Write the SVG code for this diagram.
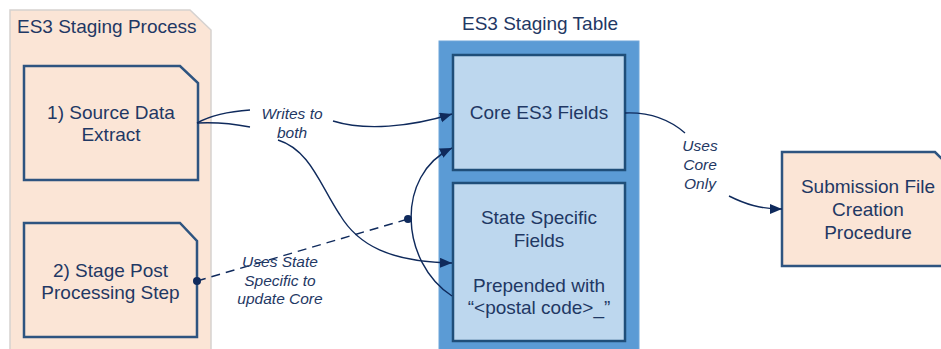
<svg xmlns="http://www.w3.org/2000/svg" width="941" height="349" viewBox="0 0 941 349">
  <style>
    .t { font-family: "Liberation Sans", Arial, sans-serif; font-size: 19px; fill: #1f3864; text-anchor: middle; }
    .tl { font-family: "Liberation Sans", Arial, sans-serif; font-size: 19px; fill: #1f3864; }
    .lab { font-family: "Liberation Sans", Arial, sans-serif; font-size: 15.5px; font-style: italic; fill: #1f3864; text-anchor: middle; }
    .peach { fill: #fbe5d6; stroke: #2e5480; stroke-width: 2.5; }
    .blue { fill: #bdd7ee; stroke: #1f4e79; stroke-width: 2.5; }
    .conn { fill: none; stroke: #0f2a5c; stroke-width: 1.4; }
    .dash { stroke-dasharray: 9 6; }
    .dot { fill: #0f2a5c; }
  </style>
  <defs>
    <marker id="arr" markerUnits="userSpaceOnUse" markerWidth="14" markerHeight="12" refX="12" refY="5" orient="auto">
      <path d="M0,0 L12,5 L0,10 Z" fill="#0f2a5c"/>
    </marker>
  </defs>
  <rect x="0" y="0" width="941" height="349" fill="#ffffff"/>

  <g id="staging-process">
    <path d="M10,10 H190 L211,30 V355 H10 Z" fill="#fbe5d6" stroke="#d6d2d0" stroke-width="1.5"/>
    <text class="tl" x="17" y="33">ES3 Staging Process</text>
  </g>

  <g id="source-extract">
    <path class="peach" d="M24,66 H180 L198,83 V180 H24 Z"/>
    <text class="t" x="111" y="118.5">1) Source Data</text>
    <text class="t" x="111" y="141">Extract</text>
  </g>

  <g id="stage-post">
    <path class="peach" d="M24,223 H180 L197,241 V337 H24 Z"/>
    <text class="t" x="110.5" y="277">2) Stage Post</text>
    <text class="t" x="110.5" y="298.5">Processing Step</text>
  </g>

  <g id="staging-table">
    <rect x="439" y="41" width="200" height="320" fill="#5b9bd5" stroke="#6fa6da" stroke-width="1"/>
    <text class="t" x="540" y="29.5">ES3 Staging Table</text>
  </g>

  <g id="core-fields">
    <rect class="blue" x="453" y="55" width="172" height="115"/>
    <text class="t" x="539" y="118.5">Core ES3 Fields</text>
  </g>

  <g id="state-fields">
    <rect class="blue" x="453" y="183" width="172" height="158"/>
    <text class="t" x="539" y="224">State Specific</text>
    <text class="t" x="539" y="247">Fields</text>
    <text class="t" x="539" y="292">Prepended with</text>
    <text class="t" x="539" y="314">“&lt;postal code&gt;_”</text>
  </g>

  <g id="submission">
    <path class="peach" d="M782,152 H935 L948,165 V266 H782 Z"/>
    <text class="t" x="868" y="193">Submission File</text>
    <text class="t" x="868" y="216">Creation</text>
    <text class="t" x="868" y="238.5">Procedure</text>
  </g>

  <g id="connectors">
    <path class="conn" d="M197,123 C215,113 235,111 250,110"/>
    <path class="conn" d="M197,123 C215,122 235,124 250,127"/>
    <path class="conn" d="M333,121 C365,131 410,127 452,114" marker-end="url(#arr)"/>
    <path class="conn" d="M278,140 C310,150 320,185 340,215 C358,245 390,262 452,263" marker-end="url(#arr)"/>
    <path class="conn dash" d="M197,281 L408,219"/>
    <path class="conn" d="M452,296 C400,262 395,175 452,148" marker-end="url(#arr)"/>
    <path class="conn" d="M625,113 C650,112 670,120 685,133"/>
    <path class="conn" d="M729,196 C745,204 760,209 782,209" marker-end="url(#arr)"/>
    <circle class="dot" cx="197" cy="281" r="4"/>
    <circle class="dot" cx="408" cy="219" r="4"/>
    <text class="lab" x="292" y="119">Writes to</text>
    <text class="lab" x="292" y="137.5">both</text>
    <text class="lab" x="280" y="267">Uses State</text>
    <text class="lab" x="280" y="285.5">Specific to</text>
    <text class="lab" x="280" y="304">update Core</text>
    <text class="lab" x="700" y="151">Uses</text>
    <text class="lab" x="700" y="170">Core</text>
    <text class="lab" x="700" y="189">Only</text>
  </g>
</svg>
